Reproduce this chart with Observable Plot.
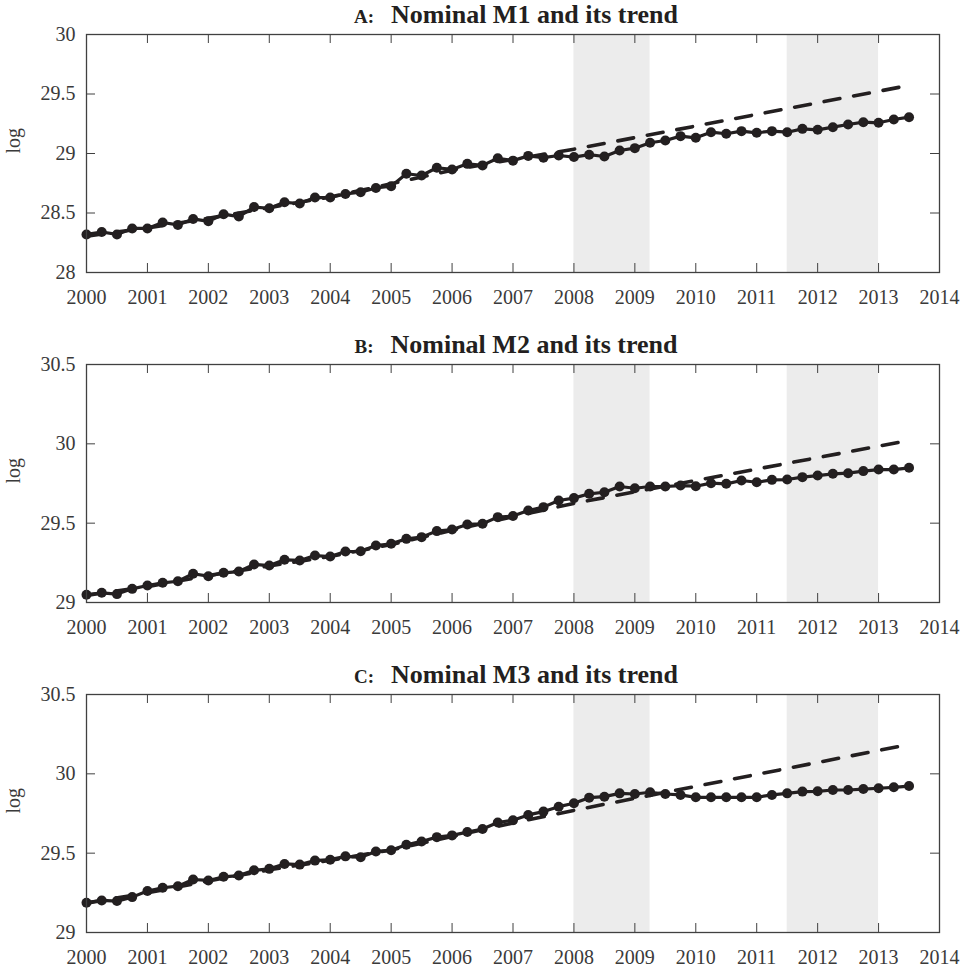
<!DOCTYPE html>
<html>
<head>
<meta charset="utf-8">
<script src="https://cdn.jsdelivr.net/npm/d3@7"></script>
<script src="https://cdn.jsdelivr.net/npm/@observablehq/plot@0.6"></script>
<style>
  html, body { margin: 0; padding: 0; background: #fff; overflow: hidden; }
  body { width: 968px; height: 970px; font-family: "Liberation Serif", "Times New Roman", serif; color: #231f20; }
  .title { position: relative; z-index: 2; box-sizing: border-box; width: 968px; padding-left: 64px; height: 30px; line-height: 30px;
           text-align: center; font-size: 26px; font-weight: bold; white-space: nowrap; }
  .title .lab { font-size: 19px; margin-right: 17px; }
  svg { display: block; position: relative; z-index: 1; margin-top: -20px; }
</style>
</head>
<body>
<div id="root"></div>
<script>
// ---- data ----
const panelLetters = ["A:", "B:", "C:"];
const panelTitles = ["Nominal M1 and its trend", "Nominal M2 and its trend", "Nominal M3 and its trend"];
const yLabel = "log";
const xTicks = [2000, 2001, 2002, 2003, 2004, 2005, 2006, 2007, 2008, 2009, 2010, 2011, 2012, 2013, 2014];
const yTicksA = [28, 28.5, 29, 29.5, 30];
const yTicksBC = [29, 29.5, 30, 30.5];
const shadeStart = [2008, 2011.5];
const shadeEnd = [2009.25, 2013];
// quarterly observations 2000Q1 .. 2013Q3
const quarters = d3.range(55).map(i => 2000 + i * 0.25);
const m1 = [28.32, 28.34, 28.32, 28.37, 28.37, 28.42, 28.40, 28.45, 28.43, 28.49, 28.47, 28.55, 28.54, 28.59, 28.58,
  28.63, 28.63, 28.66, 28.675, 28.71, 28.725, 28.83, 28.815, 28.88, 28.866, 28.913, 28.90, 28.96, 28.94, 28.98,
  28.965, 28.983, 28.97, 28.99, 28.975, 29.025, 29.045, 29.09, 29.109, 29.146, 29.132, 29.179, 29.166, 29.188,
  29.174, 29.188, 29.179, 29.207, 29.199, 29.221, 29.244, 29.263, 29.258, 29.286, 29.305];
const m2 = [29.049, 29.061, 29.053, 29.086, 29.107, 29.124, 29.134, 29.181, 29.166, 29.187, 29.195, 29.240, 29.233,
  29.269, 29.265, 29.296, 29.290, 29.321, 29.323, 29.359, 29.370, 29.401, 29.412, 29.450, 29.460, 29.492, 29.496,
  29.538, 29.545, 29.580, 29.601, 29.643, 29.658, 29.685, 29.695, 29.731, 29.720, 29.731, 29.731, 29.737, 29.733,
  29.752, 29.748, 29.769, 29.758, 29.773, 29.775, 29.790, 29.800, 29.811, 29.815, 29.828, 29.838, 29.838, 29.849];
const m3 = [29.188, 29.202, 29.198, 29.223, 29.261, 29.282, 29.292, 29.334, 29.328, 29.351, 29.359, 29.392, 29.401,
  29.432, 29.428, 29.453, 29.459, 29.480, 29.474, 29.511, 29.518, 29.553, 29.574, 29.601, 29.612, 29.633, 29.652,
  29.693, 29.708, 29.741, 29.762, 29.793, 29.815, 29.850, 29.856, 29.877, 29.873, 29.884, 29.873, 29.867, 29.852,
  29.852, 29.852, 29.852, 29.852, 29.867, 29.877, 29.888, 29.890, 29.898, 29.898, 29.904, 29.909, 29.915, 29.923];
// trend (dashed), read at these dates
const trendDates = [2000, 2001, 2002, 2003, 2004, 2005, 2006, 2007, 2008, 2013.5];
const trendM1 = [28.305, 28.375, 28.455, 28.545, 28.635, 28.745, 28.86, 28.95, 29.036, 29.572];
const trendM2 = [29.045, 29.10, 29.17, 29.23, 29.29, 29.365, 29.455, 29.54, 29.625, 30.021];
const trendM3 = [29.185, 29.25, 29.325, 29.395, 29.455, 29.52, 29.605, 29.69, 29.77, 30.185];

// ---- drawing ----
const INK = "#231f20", AXIS = "#404040";
const shades = shadeStart.map((s, i) => ({start: s, end: shadeEnd[i]}));
const panels = [
  {values: m1, trend: trendM1, domain: [28, 30], ticks: yTicksA},
  {values: m2, trend: trendM2, domain: [29, 30.5], ticks: yTicksBC},
  {values: m3, trend: trendM3, domain: [29, 30.5], ticks: yTicksBC}
];
const root = document.getElementById("root");
const frameW = 968 - 86 - 29, frameH = 238, tick = 9, mt = 24;

panels.forEach((p, k) => {
  const div = document.createElement("div");
  const t = document.createElement("div");
  t.className = "title";
  const lab = document.createElement("span");
  lab.className = "lab";
  lab.textContent = panelLetters[k];
  t.appendChild(lab);
  t.appendChild(document.createTextNode(panelTitles[k]));
  div.appendChild(t);

  const series = quarters.map((q, i) => ({t: q, v: p.values[i]}));
  const trend = trendDates.map((d, i) => ({t: d, v: p.trend[i]}));
  const last = k === 2;
  const height = last ? 300 : 320;
  const mb = height - mt - frameH;

  const chart = Plot.plot({
    width: 968, height,
    marginLeft: 86, marginRight: 29, marginTop: mt, marginBottom: mb,
    x: {domain: [2000, 2014], axis: null},
    y: {domain: p.domain, axis: null},
    style: {fontFamily: "'Liberation Serif', 'Times New Roman', serif", fontSize: "20px", color: "#3a3a3a", background: "transparent"},
    marks: [
      Plot.rect(shades, {x1: "start", x2: "end", fill: "#ececec"}),
      Plot.line(series, {x: "t", y: "v", stroke: INK, strokeWidth: 3.2}),
      Plot.dot(series, {x: "t", y: "v", r: 5, fill: INK, stroke: null}),
      Plot.line(trend, {x: "t", y: "v", stroke: INK, strokeWidth: 3.6, strokeDasharray: "16,14"}),
      Plot.frame({stroke: AXIS, strokeWidth: 1.3}),
      Plot.ruleX(xTicks, {x: d => d, insetTop: frameH - tick, stroke: AXIS}),
      Plot.ruleX(xTicks, {x: d => d, insetBottom: frameH - tick, stroke: AXIS}),
      Plot.ruleY(p.ticks, {y: d => d, insetRight: frameW - tick, stroke: AXIS}),
      Plot.ruleY(p.ticks, {y: d => d, insetLeft: frameW - tick, stroke: AXIS}),
      Plot.text(xTicks, {x: d => d, text: d => String(d), frameAnchor: "bottom", lineAnchor: "top", dy: 17, fontSize: 20, fill: "currentColor"}),
      Plot.text(p.ticks, {y: d => d, text: d => String(d), frameAnchor: "left", textAnchor: "end", dx: -11, fontSize: 20, fill: "currentColor"}),
      Plot.text([yLabel], {text: d => d, frameAnchor: "left", dx: -73, rotate: -90, fontSize: 20, fill: "currentColor"})
    ]
  });
  div.appendChild(chart);
  root.appendChild(div);
});
</script>
</body>
</html>
